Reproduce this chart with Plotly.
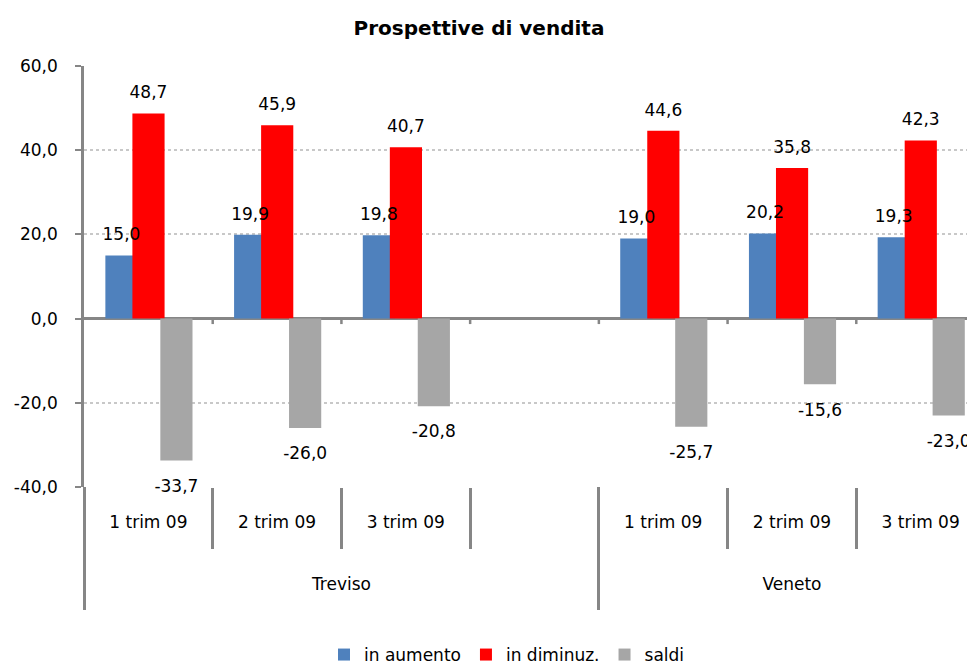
import plotly.graph_objects as go

# dati
titolo = "Prospettive di vendita"
gruppi = ["Treviso", "Treviso", "Treviso", "Treviso", "Veneto", "Veneto", "Veneto"]
periodi = ["1 trim 09", "2 trim 09", "3 trim 09", "", "1 trim 09", "2 trim 09", "3 trim 09"]
in_aumento = [15.0, 19.9, 19.8, None, 19.0, 20.2, 19.3]
in_diminuz = [48.7, 45.9, 40.7, None, 44.6, 35.8, 42.3]
saldi = [-33.7, -26.0, -20.8, None, -25.7, -15.6, -23.0]
y_ticks = [-40, -20, 0, 20, 40, 60]

FONT = "DejaVu Sans, Arial, sans-serif"
FS = 17
NERO = "#000000"
GRIGIO_ASSE = "#868686"
X_RANGE = [-0.5, 6.5]

# la pagina html ha 8 px di margine: la figura parte da (8, 8) e il lato
# destro del grafico esce dalla finestra, come nell'originale
BODY = 8
W, H = 977, 658
L, T = 84 - BODY, 66 - BODY
PAPER_H = H - T  # margine inferiore nullo


def py(px):
    # da pixel dello schermo (dall'alto) a coordinate paper
    return (H - (px - BODY)) / PAPER_H


serie = [
    ("in aumento", in_aumento, "#4F81BD", -0.334),
    ("in diminuz.", in_diminuz, "#FF0000", -0.124),
    ("saldi", saldi, "#A6A6A6", 0.093),
]
LARGHEZZA = 0.25

pos_x = list(range(len(periodi)))
confini = [i - 0.5 for i in range(len(periodi) + 1)]
nomi_gruppi = list(dict.fromkeys(gruppi))
centri_gruppi = [
    sum(i for i, g in enumerate(gruppi) if g == n) / gruppi.count(n) for n in nomi_gruppi
]
confini_gruppi = [-0.5]
for n in nomi_gruppi:
    confini_gruppi.append(max(i for i, g in enumerate(gruppi) if g == n) + 0.5)


def fmt(v):
    return f"{v:.1f}".replace(".", ",")


fig = go.Figure()

# barre
for nome, valori, colore, offset in serie:
    fig.add_trace(
        go.Bar(
            x=pos_x,
            y=valori,
            name=nome,
            marker=dict(color=colore, line=dict(width=0)),
            offset=offset,
            width=LARGHEZZA,
            hoverinfo="y+name",
        )
    )

# etichette dei valori
for nome, valori, colore, offset in serie:
    xs, ys, testi, pos, dim = [], [], [], [], []
    for i, v in zip(pos_x, valori):
        if v is None:
            continue
        xs.append(i + offset + LARGHEZZA / 2)
        ys.append(v)
        testi.append(fmt(v))
        pos.append("top center" if v >= 0 else "bottom center")
        dim.append(16 if v >= 0 else 28)
    fig.add_trace(
        go.Scatter(
            x=xs,
            y=ys,
            mode="markers+text",
            text=testi,
            textposition=pos,
            textfont=dict(family=FONT, size=FS, color=NERO),
            marker=dict(size=dim, opacity=0),
            showlegend=False,
            hoverinfo="skip",
            cliponaxis=False,
        )
    )

# tacche sulla linea dello zero
tacche = confini[1:-1]
fig.add_trace(
    go.Scatter(
        x=tacche,
        y=[0] * len(tacche),
        mode="markers",
        marker=dict(size=1, opacity=0),
        error_y=dict(
            type="data",
            symmetric=False,
            array=[0] * len(tacche),
            arrayminus=[1.3] * len(tacche),
            color=GRIGIO_ASSE,
            thickness=2.5,
            width=0,
        ),
        showlegend=False,
        hoverinfo="skip",
    )
)

# asse dei gruppi (Treviso / Veneto)
fig.add_trace(go.Scatter(x=[], y=[], xaxis="x2", showlegend=False, hoverinfo="skip"))

fig.update_layout(
    width=W,
    height=H,
    margin=dict(l=L, r=0, t=T, b=0, autoexpand=False),
    paper_bgcolor="white",
    plot_bgcolor="white",
    barmode="overlay",
    font=dict(family=FONT, size=FS, color=NERO),
    title=dict(
        text=f"<b>{titolo}</b>",
        x=(479 - BODY) / W,
        xref="container",
        xanchor="center",
        y=1 - (28 - BODY) / H,
        yanchor="middle",
        font=dict(family=FONT, size=20, color=NERO),
    ),
    showlegend=True,
    legend=dict(
        orientation="h",
        x=(507 - 84) / 901,
        xanchor="center",
        y=py(655),
        yanchor="middle",
        font=dict(family=FONT, size=FS, color=NERO),
        itemwidth=30,
    ),
    xaxis=dict(
        range=X_RANGE,
        tickmode="array",
        tickvals=pos_x,
        ticktext=periodi,
        ticks="",
        showgrid=False,
        showline=False,
        zeroline=False,
        automargin=False,
        ticklabelstandoff=23,
        tickfont=dict(family=FONT, size=FS, color=NERO),
        minor=dict(
            tickmode="array",
            tickvals=confini,
            ticks="outside",
            ticklen=61,
            tickwidth=2.5,
            tickcolor=GRIGIO_ASSE,
            showgrid=False,
        ),
    ),
    xaxis2=dict(
        overlaying="x",
        anchor="free",
        position=py(610),
        range=X_RANGE,
        tickmode="array",
        tickvals=centri_gruppi,
        ticktext=nomi_gruppi,
        ticks="",
        ticklabelposition="inside",
        ticklabelstandoff=14,
        showgrid=False,
        showline=False,
        zeroline=False,
        automargin=False,
        tickfont=dict(family=FONT, size=FS, color=NERO),
        minor=dict(
            tickmode="array",
            tickvals=confini_gruppi,
            ticks="inside",
            ticklen=123,
            tickwidth=2.5,
            tickcolor=GRIGIO_ASSE,
            showgrid=False,
        ),
    ),
    yaxis=dict(
        domain=[py(487), 1],
        range=[y_ticks[0], y_ticks[-1]],
        tickmode="array",
        tickvals=y_ticks,
        ticktext=[fmt(v) for v in y_ticks],
        showline=True,
        linecolor=GRIGIO_ASSE,
        linewidth=2.5,
        ticks="outside",
        ticklen=6,
        tickwidth=2,
        tickcolor=GRIGIO_ASSE,
        showgrid=True,
        gridcolor="#c8c8c8",
        griddash="dot",
        gridwidth=2,
        zeroline=True,
        zerolinecolor=GRIGIO_ASSE,
        zerolinewidth=2.5,
        automargin=False,
        ticklabelstandoff=14,
        tickfont=dict(family=FONT, size=FS, color=NERO),
    ),
)

fig.write_html("out.html")
